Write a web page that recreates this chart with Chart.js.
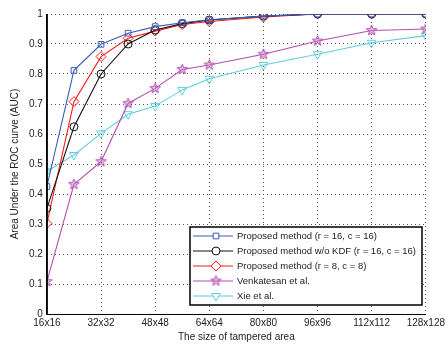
<!DOCTYPE html>
<html lang="en">
<head>
  <meta charset="UTF-8" />
  <title>AUC vs tampered area</title>
  <script src="https://cdn.jsdelivr.net/npm/chart.js"></script>
  <style>
    body { margin: 0; background: #fff; }
    #wrap { width: 448px; height: 345px; position: relative; }
  </style>
</head>
<body>
  <div id="wrap"><canvas id="aucChart"></canvas></div>
  <script>
    const sizes = [16, 24, 32, 40, 48, 56, 64, 80, 96, 112, 128];
    const xTicks = [16, 32, 48, 64, 80, 96, 112, 128];
    const yTicks = [0, 0.1, 0.2, 0.3, 0.4, 0.5, 0.6, 0.7, 0.8, 0.9, 1];

    const proposed16 = [0.425, 0.812, 0.899, 0.936, 0.958, 0.971, 0.981, 0.993, 1.0, 1.0, 1.0];
    const proposedNoKdf = [0.352, 0.624, 0.800, 0.900, 0.947, 0.968, 0.980, 0.993, 1.0, 1.0, 1.0];
    const proposed8 = [0.302, 0.708, 0.858, 0.919, 0.943, 0.965, 0.975, 0.990, 1.0, 1.0, 1.0];
    const venkatesan = [0.108, 0.432, 0.508, 0.702, 0.752, 0.815, 0.830, 0.866, 0.910, 0.945, 0.950];
    const xie = [0.476, 0.530, 0.602, 0.666, 0.693, 0.747, 0.784, 0.830, 0.866, 0.904, 0.928];

    const labels = [
      'Proposed method (r = 16, c = 16)',
      'Proposed method w/o KDF (r = 16, c = 16)',
      'Proposed method (r = 8, c = 8)',
      'Venkatesan et al.',
      'Xie et al.'
    ];

    // pentagram marker (MATLAB style), used as an image point style
    function pentagram(color, r) {
      const c = document.createElement('canvas');
      const s = r * 2 + 4;
      c.width = s; c.height = s;
      const g = c.getContext('2d');
      g.beginPath();
      for (let i = 0; i < 10; i++) {
        const rad = i % 2 === 0 ? r : r * 0.42;
        const a = -Math.PI / 2 + i * Math.PI / 5;
        const px = s / 2 + rad * Math.cos(a), py = s / 2 + rad * Math.sin(a);
        if (i === 0) g.moveTo(px, py); else g.lineTo(px, py);
      }
      g.closePath();
      g.fillStyle = 'rgba(200,120,200,0.45)';
      g.fill();
      g.strokeStyle = color;
      g.lineWidth = 1;
      g.stroke();
      return c;
    }

    const colors = ['#3a5db5', '#111111', '#ff1a1a', '#b24fb0', '#5fcfe0'];
    const styles = ['rect', 'circle', 'rectRot', pentagram(colors[3], 5.5), 'triangle'];
    const radii = [4, 4, 5, 6, 5];
    const rotations = [0, 0, 0, 0, 180];
    const series = [proposed16, proposedNoKdf, proposed8, venkatesan, xie];

    const datasets = series.map((vals, i) => ({
      label: labels[i],
      data: sizes.map((s, j) => ({ x: s, y: vals[j] })),
      borderColor: colors[i],
      backgroundColor: colors[i],
      pointBackgroundColor: 'rgba(0,0,0,0)',
      pointBorderColor: colors[i],
      pointStyle: styles[i],
      pointRadius: radii[i],
      pointRotation: rotations[i],
      pointBorderWidth: 1,
      borderWidth: 1.1,
      tension: 0
    }));

    // legend box drawn inside the plot, lower right
    const boxLegend = {
      id: 'boxLegend',
      afterDraw(chart) {
        const ctx = chart.ctx;
        const x0 = 190, y0 = 227, w = 232, h = 78;
        ctx.save();
        ctx.fillStyle = '#fff';
        ctx.fillRect(x0, y0, w, h);
        ctx.strokeStyle = '#000';
        ctx.lineWidth = 1.5;
        ctx.strokeRect(x0, y0, w, h);
        ctx.textBaseline = 'middle';
        chart.data.datasets.forEach((ds, i) => {
          const y = y0 + 9 + i * 15;
          ctx.strokeStyle = ds.borderColor;
          ctx.lineWidth = 1.1;
          ctx.beginPath();
          ctx.moveTo(x0 + 3, y);
          ctx.lineTo(x0 + 43, y);
          ctx.stroke();
          ctx.fillStyle = '#fff';
          ctx.lineWidth = 1;
          Chart.helpers.drawPoint(ctx, {
            pointStyle: ds.pointStyle,
            radius: ds.pointRadius,
            rotation: ds.pointRotation,
            borderWidth: 1
          }, x0 + 26, y);
          ctx.font = '9.5px "Liberation Sans", Arial, sans-serif';
          ctx.fillStyle = '#222';
          ctx.fillText(ds.label, x0 + 47, y + 0.5);
        });
        ctx.restore();
      }
    };

    const tickFont = { family: '"Liberation Sans", Arial, sans-serif', size: 10 };

    new Chart(document.getElementById('aucChart'), {
      type: 'line',
      data: { datasets },
      options: {
        responsive: true,
        maintainAspectRatio: false,
        animation: false,
        layout: { padding: { top: 14, right: 4, left: 9, bottom: 0 } },
        plugins: { legend: { display: false }, tooltip: { enabled: false } },
        scales: {
          x: {
            type: 'linear',
            min: 16, max: 128,
            afterBuildTicks: axis => { axis.ticks = xTicks.map(v => ({ value: v })); },
            afterFit: axis => { axis.height = 31; },
            ticks: {
              color: '#222', font: tickFont, padding: 3, maxRotation: 0,
              callback: v => v + 'x' + v
            },
            grid: { color: '#555', drawTicks: false },
            border: { color: '#000', width: 1, dash: [1, 3] },
            title: { display: true, text: 'The size of tampered area', color: '#222', font: tickFont, padding: { top: 1, bottom: 2 } }
          },
          y: {
            min: 0, max: 1,
            afterBuildTicks: axis => { axis.ticks = yTicks.map(v => ({ value: v })); },
            ticks: { color: '#222', font: tickFont, padding: 4, callback: v => String(+v.toFixed(1)) },
            grid: { color: '#555', drawTicks: false },
            border: { color: '#000', width: 1, dash: [1, 3] },
            title: { display: true, text: 'Area Under the ROC curve (AUC)', color: '#222', font: tickFont, padding: { top: 0, bottom: 4 } }
          }
        }
      },
      plugins: [boxLegend, {
        id: 'solidAxes',
        afterDraw(chart) {
          const { ctx, chartArea: a } = chart;
          ctx.save();
          ctx.strokeStyle = '#000';
          ctx.lineWidth = 1;
          ctx.beginPath();
          ctx.moveTo(a.left + 0.5, a.top);
          ctx.lineTo(a.left + 0.5, a.bottom + 0.5);
          ctx.lineTo(a.right, a.bottom + 0.5);
          ctx.stroke();
          ctx.restore();
        }
      }]
    });
  </script>
</body>
</html>
